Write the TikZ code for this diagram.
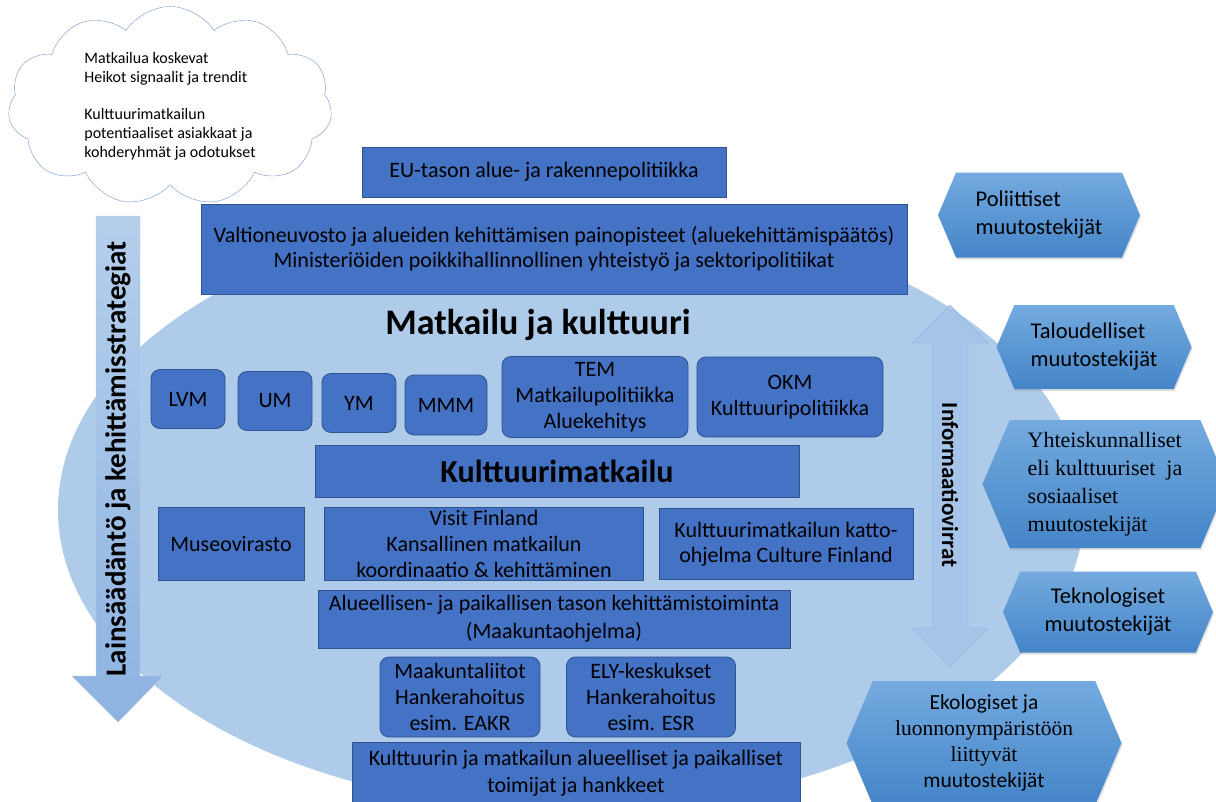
\documentclass[tikz,border=0pt]{standalone}
\usepackage{fontspec}
\setmainfont{Carlito}
\newfontfamily\timesfont{Liberation Serif}
\usetikzlibrary{shapes.symbols,shadows}
\definecolor{ovalblue}{HTML}{AECBEA}
\definecolor{boxblue}{HTML}{4472C4}
\definecolor{boxline}{HTML}{2F528F}
\definecolor{hexlight}{HTML}{74AADF}
\definecolor{hexdark}{HTML}{4485C8}
\definecolor{arrowtop}{HTML}{B5CFEC}
\definecolor{arrowbot}{HTML}{8DB3E1}

\begin{document}
\begin{tikzpicture}[x=1pt,y=-1pt,
  govbox/.style={draw=boxline, fill=boxblue, line width=0.8pt, align=center,
    inner sep=0pt, font=\fontsize{22}{26}\selectfont},
  minbox/.style={govbox, rounded corners=9pt},
  hexbox/.style={shape=signal, signal to=east and west, signal pointer angle=134,
    top color=hexlight, bottom color=hexdark, draw=none, inner sep=0pt,
    drop shadow={shadow xshift=1pt, shadow yshift=-2pt, opacity=0.25},
    font=\fontsize{22.5}{28}\selectfont},
  arrowlabel/.style={font=\bfseries\fontsize{29}{32}\selectfont}]
  \useasboundingbox (0,0) rectangle (1216,801);
  % background oval
  \fill[ovalblue] (571,510) ellipse [x radius=513pt, y radius=300pt];
  % cloud
  \node[cloud, cloud puffs=11, cloud puff arc=115, aspect=1.75, draw=boxblue!75,
    fill=white, minimum width=324pt, minimum height=190pt, align=left,
    font=\fontsize{16}{19}\selectfont] (trends) at (170,106)
    {Matkailua koskevat\\Heikot signaalit ja trendit\\[18pt]Kulttuurimatkailun\\
     potentiaaliset asiakkaat ja\\kohderyhmät ja odotukset};
  % left arrow
  \draw[arrowtop!80!black!60, top color=arrowtop, bottom color=arrowbot]
    (96,216) -- (140,216) -- (140,676) -- (163,676) -- (118,722) -- (72,676)
    -- (96,676) -- cycle;
  \node[arrowlabel, rotate=90] (laws) at (118,459) {Lainsäädäntö ja kehittämisstrategiat};
  % right double arrow
  \draw[arrowbot, fill=arrowbot!80!white, fill opacity=0.75]
    (950,305) -- (988,343) -- (968,343) -- (968,628) -- (988,628) -- (950,667)
    -- (912,628) -- (932,628) -- (932,343) -- (912,343) -- cycle;
  \node[arrowlabel, rotate=-90, font=\bfseries\fontsize{23}{26}\selectfont] (info) at (950,485)
    {Informaatiovirrat};
  % policy levels
  \node[govbox, minimum width=364pt, minimum height=50pt] (eu) at (544,172)
    {EU-tason alue- ja rakennepolitiikka};
  \node[govbox, minimum width=706pt, minimum height=90pt, font=\fontsize{22}{25}\selectfont]
    (gov) at (554,249)
    {Valtioneuvosto ja alueiden kehittämisen painopisteet (aluekehittämispäätös)\\
     Ministeriöiden poikkihallinnollinen yhteistyö ja sektoripolitiikat};
  \node[font=\bfseries\fontsize{36}{40}\selectfont] (title) at (538,325) {Matkailu ja kulttuuri};
  % ministries
  \node[minbox, minimum width=74pt, minimum height=59pt] (lvm) at (188,399) {LVM};
  \node[minbox, minimum width=74pt, minimum height=59pt] (um) at (275,401) {UM};
  \node[minbox, minimum width=74pt, minimum height=59pt] (ym) at (359,403) {YM};
  \node[minbox, minimum width=82pt, minimum height=60pt] (mmm) at (446,405) {MMM};
  \node[minbox, minimum width=186pt, minimum height=81pt] (tem) at (595,397)
    {TEM\\Matkailupolitiikka\\Aluekehitys};
  \node[minbox, minimum width=186pt, minimum height=80pt] (okm) at (790,397)
    {OKM\\Kulttuuripolitiikka};
  \node[govbox, minimum width=484pt, minimum height=52pt, font=\bfseries\fontsize{32}{34}\selectfont]
    (culttour) at (557,471) {Kulttuurimatkailu};
  % national actors
  \node[govbox, minimum width=146pt, minimum height=73pt] (museum) at (231,544) {Museovirasto};
  \node[govbox, minimum width=319pt, minimum height=73pt] (visit) at (484,544)
    {Visit Finland\\Kansallinen matkailun\\koordinaatio \& kehittäminen};
  \node[govbox, minimum width=254pt, minimum height=71pt, font=\fontsize{22}{25}\selectfont]
    (culture) at (786,544) {Kulttuurimatkailun katto-\\ohjelma Culture Finland};
  \node[govbox, minimum width=472pt, minimum height=58pt, font=\fontsize{22}{28}\selectfont]
    (region) at (554,619)
    {Alueellisen- ja paikallisen tason kehittämistoiminta\\(Maakuntaohjelma)};
  % regional funding
  \node[minbox, minimum width=160pt, minimum height=80pt] (maak) at (460,697)
    {Maakuntaliitot\\Hankerahoitus\\esim. EAKR};
  \node[minbox, minimum width=169pt, minimum height=80pt] (ely) at (651,697)
    {ELY-keskukset\\Hankerahoitus\\esim. ESR};
  \node[govbox, minimum width=448pt, minimum height=62pt, font=\fontsize{22}{27}\selectfont]
    (local) at (576,773)
    {Kulttuurin ja matkailun alueelliset ja paikalliset\\toimijat ja hankkeet};
  % drivers of change
  \node[hexbox, minimum width=202pt, minimum height=85pt, align=left] (polit) at (1039,215)
    {Poliittiset\\muutostekijät};
  \node[hexbox, minimum width=195pt, minimum height=84pt, align=left] (econ) at (1094,347)
    {Taloudelliset\\muutostekijät};
  \node[hexbox, minimum width=245pt, minimum height=128pt, align=left,
    font=\timesfont\fontsize{22}{28}\selectfont] (social) at (1105,484)
    {Yhteiskunnalliset\\eli kulttuuriset\ \ ja\\sosiaaliset\\muutostekijät};
  \node[hexbox, minimum width=210pt, minimum height=81pt, align=center] (tech) at (1108,612)
    {Teknologiset\\muutostekijät};
  \node[hexbox, minimum width=275pt, minimum height=124pt, align=center,
    font=\fontsize{21.5}{26}\selectfont] (eco) at (984,743)
    {Ekologiset ja\\{\timesfont luonnonympäristöön}\\{\timesfont liittyvät}\\muutostekijät};
\end{tikzpicture}
\end{document}
